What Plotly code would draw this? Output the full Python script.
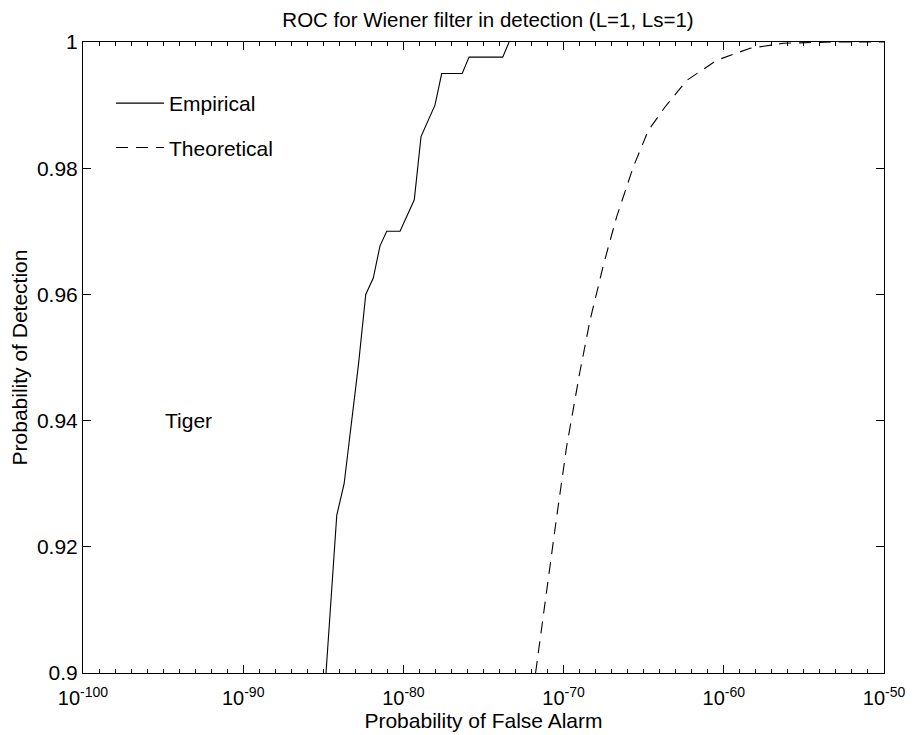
import plotly.graph_objects as go

# Empirical ROC (log10 of Pfa, Pd)
emp_log_pfa = [-84.83, -84.16, -83.7, -82.8, -82.35, -81.88, -81.46, -81.04, -80.21,
               -79.32, -78.9, -78.03, -77.61, -76.33, -75.9, -73.8, -73.4]
emp_pd = [0.900, 0.925, 0.930, 0.949, 0.960, 0.9626, 0.9677, 0.970, 0.970,
          0.975, 0.985, 0.990, 0.995, 0.995, 0.9976, 0.9976, 1.0]

# Theoretical ROC
th_log_pfa = [-71.75, -71.2, -70.5, -69.81, -69.0, -68.35, -67.5, -66.69, -65.65, -64.71,
              -63.67, -62.32, -60.45, -58.36, -56.28, -53.2, -50.0]
th_pd = [0.900, 0.9105, 0.9235, 0.9359, 0.9475, 0.9559, 0.9648, 0.9723, 0.9802, 0.986,
         0.9897, 0.9939, 0.9971, 0.999, 0.9998, 1.0, 1.0]

x_tick_exp = [-100, -90, -80, -70, -60, -50]
y_ticks = [0.9, 0.92, 0.94, 0.96, 0.98, 1.0]
y_tick_labels = ["0.9", "0.92", "0.94", "0.96", "0.98", "1"]

FONT = "Liberation Sans, Arial, Helvetica, sans-serif"

fig = go.Figure()
fig.add_trace(go.Scatter(x=[10 ** v for v in emp_log_pfa], y=emp_pd, mode="lines",
                         name="Empirical", legendgroup="a",
                         line=dict(color="black", width=1.1)))
fig.add_trace(go.Scatter(x=[10 ** v for v in th_log_pfa], y=th_pd, mode="lines",
                         name="Theoretical", legendgroup="b",
                         line=dict(color="black", width=1.1, dash="12px,8px")))

fig.add_annotation(x=-95, y=0.94, text="Tiger", showarrow=False, xanchor="left",
                   font=dict(size=21, color="black", family=FONT))

fig.update_layout(
    width=906, height=727,
    margin=dict(l=75, r=30, t=34, b=62, autoexpand=False),
    paper_bgcolor="white", plot_bgcolor="white",
    font=dict(family=FONT, color="black", size=21),
    title=dict(text="ROC for Wiener filter in detection (L=1, Ls=1)", x=480 / 906,
               xanchor="center", y=1 - 11.5 / 727, yanchor="middle", font=dict(size=20.5)),
    legend=dict(x=0.035, y=0.935, xanchor="left", yanchor="top", bgcolor="rgba(0,0,0,0)",
                font=dict(size=21), tracegroupgap=14, itemwidth=48, traceorder="grouped"),
    showlegend=True,
)
fig.update_xaxes(
    type="log", range=[-100, -50], automargin=False,
    tickmode="array", tickvals=[10.0 ** e for e in x_tick_exp],
    ticktext=["10<sup>%d</sup>" % e for e in x_tick_exp],
    ticks="inside", ticklen=8, tickcolor="black", tickwidth=1,
    ticklabelstandoff=7,
    showline=True, linecolor="black", linewidth=1, mirror="ticks",
    showgrid=False, zeroline=False,
    minor=dict(tickmode="array", tickvals=[10.0 ** e for e in range(-100, -49)],
               ticks="inside", ticklen=4, tickcolor="black", showgrid=False),
    title=dict(text="Probability of False Alarm", font=dict(size=21), standoff=0),
    tickfont=dict(size=20),
)
fig.update_yaxes(
    range=[0.9, 1.0], tickmode="array", tickvals=y_ticks, ticktext=y_tick_labels,
    automargin=False,
    ticks="inside", ticklen=8, tickcolor="black", tickwidth=1,
    showline=True, linecolor="black", linewidth=1, mirror="ticks",
    showgrid=False, zeroline=False,
    title=dict(text="Probability of Detection", font=dict(size=21), standoff=6),
    tickfont=dict(size=21),
)

fig.write_html("out.html")
